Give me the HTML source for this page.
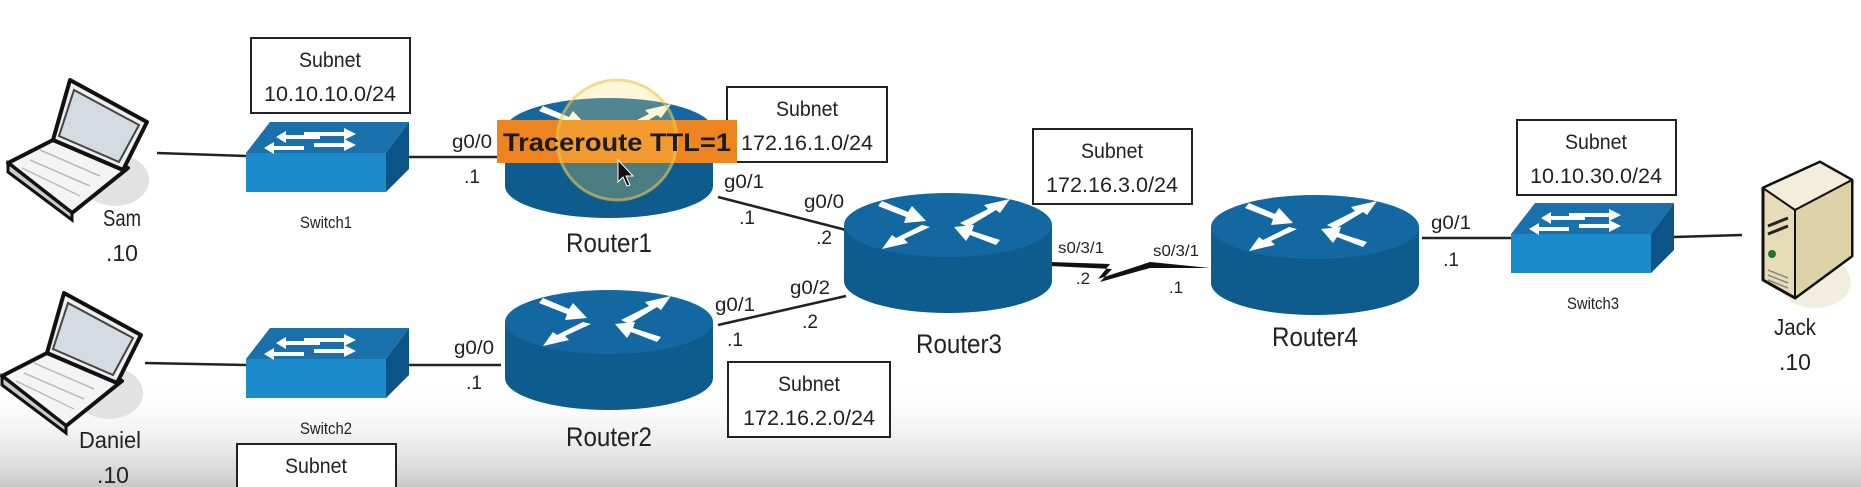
<!DOCTYPE html>
<html><head><meta charset="utf-8"><style>
html,body{margin:0;padding:0;background:#fff}
svg{display:block}
text{font-family:"Liberation Sans Narrow","Liberation Sans",sans-serif;fill:#222}
</style></head><body>
<svg width="1861" height="487" viewBox="0 0 1861 487" xmlns="http://www.w3.org/2000/svg">
<defs>
<linearGradient id="bg" x1="0" y1="0" x2="0" y2="1">
<stop offset="0" stop-color="#fff" stop-opacity="0"/><stop offset="1" stop-color="#c9c9c9"/>
</linearGradient>
<g id="arrows" fill="#fff" stroke="none">
<polygon points="-66,-24 -40,-13 -36,-19 -22,-4 -44,-2 -42,-8 -70,-19"/>
<polygon points="12,-2 40,-16 36,-20 62,-26 52,-12 48,-15 20,2"/>
<polygon points="-18,2 -44,14 -40,18 -66,24 -56,10 -52,13 -26,0"/>
<polygon points="48,20 22,10 18,16 6,2 26,0 24,6 52,15"/>
</g>
<g id="router">
<path d="M-104,0 v56 a104,32 0 0 0 208,0 v-56 z" fill="#0e5b8e"/>
<ellipse cx="0" cy="0" rx="104" ry="32" fill="#1468a2"/>
<use href="#arrows"/>
</g>
<g id="switch">
<polygon points="24,0 163,0 140,31 0,31" fill="#1a70aa"/>
<rect x="0" y="31" width="140" height="39" fill="#1b8bcc"/>
<polygon points="140,31 163,0 163,47 140,70" fill="#0d5486"/>
<g fill="#fff">
<polygon points="58,10 98,10 98,6 110,12 98,18 98,14 58,14"/>
<polygon points="30,15 40,9 40,13 74,13 74,17 40,17 40,21"/>
<polygon points="68,21 98,21 98,17 110,23 98,29 98,25 68,25"/>
<polygon points="18,26 28,20 28,24 58,24 58,28 28,28 28,32"/>
</g>
</g>
<g id="laptop">
<ellipse cx="115" cy="180" rx="34" ry="26" fill="#e2e2e2"/>
<polygon points="53,140 128,168 72,213 8,163" fill="#f4f4f4" stroke="#111" stroke-width="4" stroke-linejoin="round"/>
<polygon points="8,163 8,172 72,220 72,213" fill="#ccc" stroke="#111" stroke-width="3"/>
<polygon points="70,80 147,122 123,170 53,140" fill="#eee" stroke="#111" stroke-width="4" stroke-linejoin="round"/>
<polygon points="74,90 139,125 119,162 59,136" fill="#d5dbe2" stroke="#444" stroke-width="2"/>
<g stroke="#bbb" stroke-width="1.5">
<line x1="40" y1="150" x2="100" y2="176"/><line x1="30" y1="160" x2="90" y2="186"/><line x1="22" y1="168" x2="80" y2="196"/>
</g>
</g>
</defs>
<rect x="0" y="380" width="1861" height="107" fill="url(#bg)"/>

<g stroke="#222" stroke-width="2.5" fill="none">
<line x1="157" y1="153" x2="246" y2="156"/>
<line x1="403" y1="157" x2="501" y2="157"/>
<line x1="718" y1="197" x2="846" y2="230"/>
<line x1="145" y1="363" x2="246" y2="365"/>
<line x1="403" y1="365" x2="501" y2="365"/>
<line x1="718" y1="325" x2="846" y2="296"/>
<line x1="1422" y1="238" x2="1512" y2="238"/>
<line x1="1674" y1="237" x2="1742" y2="235"/>
</g>
<polygon points="1050,262 1110,264 1098,279 1150,262 1140,261 1210,268 1150,268 1100,282 1112,269 1050,266" fill="#111"/>

<g fill="#fff" stroke="#222" stroke-width="2">
<rect x="251" y="38" width="159" height="75"/>
<rect x="727" y="87" width="160" height="75"/>
<rect x="728" y="362" width="162" height="75"/>
<rect x="237" y="444" width="159" height="60"/>
<rect x="1033" y="129" width="159" height="75"/>
<rect x="1517" y="120" width="159" height="75"/>
</g>
<g font-size="21" text-anchor="middle">
<text x="330" y="67" textLength="62" lengthAdjust="spacingAndGlyphs">Subnet</text><text x="330" y="101" textLength="132" lengthAdjust="spacingAndGlyphs">10.10.10.0/24</text>
<text x="807" y="116" textLength="62" lengthAdjust="spacingAndGlyphs">Subnet</text><text x="807" y="150" textLength="132" lengthAdjust="spacingAndGlyphs">172.16.1.0/24</text>
<text x="809" y="391" textLength="62" lengthAdjust="spacingAndGlyphs">Subnet</text><text x="809" y="425" textLength="132" lengthAdjust="spacingAndGlyphs">172.16.2.0/24</text>
<text x="316" y="473" textLength="62" lengthAdjust="spacingAndGlyphs">Subnet</text>
<text x="1112" y="158" textLength="62" lengthAdjust="spacingAndGlyphs">Subnet</text><text x="1112" y="192" textLength="132" lengthAdjust="spacingAndGlyphs">172.16.3.0/24</text>
<text x="1596" y="149" textLength="62" lengthAdjust="spacingAndGlyphs">Subnet</text><text x="1596" y="183" textLength="132" lengthAdjust="spacingAndGlyphs">10.10.30.0/24</text>
</g>

<use href="#laptop"/>
<use href="#laptop" x="-6" y="213"/>
<use href="#switch" x="246" y="122"/>
<use href="#switch" x="246" y="328"/>
<use href="#switch" x="1511" y="203"/>
<g transform="translate(609,130)"><use href="#router"/></g>
<g transform="translate(609,322)"><use href="#router"/></g>
<g transform="translate(948,225)"><use href="#router"/></g>
<g transform="translate(1315,227)"><use href="#router"/></g>

<ellipse cx="1815" cy="282" rx="36" ry="26" fill="#f1eedf"/>
<g stroke="#111" stroke-width="3" stroke-linejoin="round">
<polygon points="1763,188 1820,162 1852,180 1852,256 1795,298 1763,280" fill="#e6dcb8"/>
<polygon points="1763,188 1820,162 1852,180 1795,210" fill="#f3eedc" stroke-width="2"/>
<polygon points="1795,210 1852,180 1852,256 1795,298" fill="#ddd2a8" stroke-width="2"/>
</g>
<circle cx="1772" cy="254" r="4" fill="#1a7a2a"/>
<path d="M1768,226 l20,-8 M1768,234 l20,-8" stroke="#222" stroke-width="3"/>
<path d="M1768,270 l20,8 M1768,275 l20,8 M1768,280 l20,8" stroke="#888" stroke-width="1.5"/>

<g text-anchor="middle">
<text x="122" y="226" font-size="23" textLength="38" lengthAdjust="spacingAndGlyphs">Sam</text><text x="122" y="261" font-size="23">.10</text>
<text x="110" y="448" font-size="23" textLength="62" lengthAdjust="spacingAndGlyphs">Daniel</text><text x="113" y="483" font-size="23">.10</text>
<text x="326" y="228" font-size="17" textLength="52" lengthAdjust="spacingAndGlyphs">Switch1</text>
<text x="326" y="434" font-size="17" textLength="52" lengthAdjust="spacingAndGlyphs">Switch2</text>
<text x="1593" y="309" font-size="17" textLength="52" lengthAdjust="spacingAndGlyphs">Switch3</text>
<text x="609" y="252" font-size="27" textLength="86" lengthAdjust="spacingAndGlyphs">Router1</text>
<text x="609" y="446" font-size="27" textLength="86" lengthAdjust="spacingAndGlyphs">Router2</text>
<text x="959" y="353" font-size="27" textLength="86" lengthAdjust="spacingAndGlyphs">Router3</text>
<text x="1315" y="346" font-size="27" textLength="86" lengthAdjust="spacingAndGlyphs">Router4</text>
<text x="1795" y="335" font-size="23" textLength="42" lengthAdjust="spacingAndGlyphs">Jack</text><text x="1795" y="370" font-size="23">.10</text>
</g>
<g font-size="19" text-anchor="middle">
<text x="472" y="148" textLength="40" lengthAdjust="spacingAndGlyphs">g0/0</text><text x="472" y="183">.1</text>
<text x="744" y="188" textLength="40" lengthAdjust="spacingAndGlyphs">g0/1</text><text x="747" y="224">.1</text>
<text x="824" y="208" textLength="40" lengthAdjust="spacingAndGlyphs">g0/0</text><text x="824" y="244">.2</text>
<text x="474" y="354" textLength="40" lengthAdjust="spacingAndGlyphs">g0/0</text><text x="474" y="389">.1</text>
<text x="735" y="311" textLength="40" lengthAdjust="spacingAndGlyphs">g0/1</text><text x="735" y="346">.1</text>
<text x="810" y="294" textLength="40" lengthAdjust="spacingAndGlyphs">g0/2</text><text x="810" y="328">.2</text>
<text x="1081" y="253" font-size="16" textLength="46" lengthAdjust="spacingAndGlyphs">s0/3/1</text><text x="1083" y="284" font-size="17">.2</text>
<text x="1176" y="256" font-size="16" textLength="46" lengthAdjust="spacingAndGlyphs">s0/3/1</text><text x="1176" y="293" font-size="17">.1</text>
<text x="1451" y="229" textLength="40" lengthAdjust="spacingAndGlyphs">g0/1</text><text x="1451" y="266">.1</text>
</g>

<rect x="497" y="120" width="240" height="43" fill="#ee8420"/>
<circle cx="617" cy="140" r="60" fill="#ffe060" fill-opacity="0.25" stroke="#e8c850" stroke-width="3" stroke-opacity="0.6"/>
<text x="617" y="151" font-size="25" font-weight="bold" text-anchor="middle" textLength="228" lengthAdjust="spacingAndGlyphs" style="fill:#1b1b1b">Traceroute TTL=1</text>
<path d="M618,160 v22 l5,-5 l4,9 l3,-1 l-4,-9 l7,0 z" fill="#111" stroke="#fff" stroke-width="1"/>
</svg>
</body></html>
